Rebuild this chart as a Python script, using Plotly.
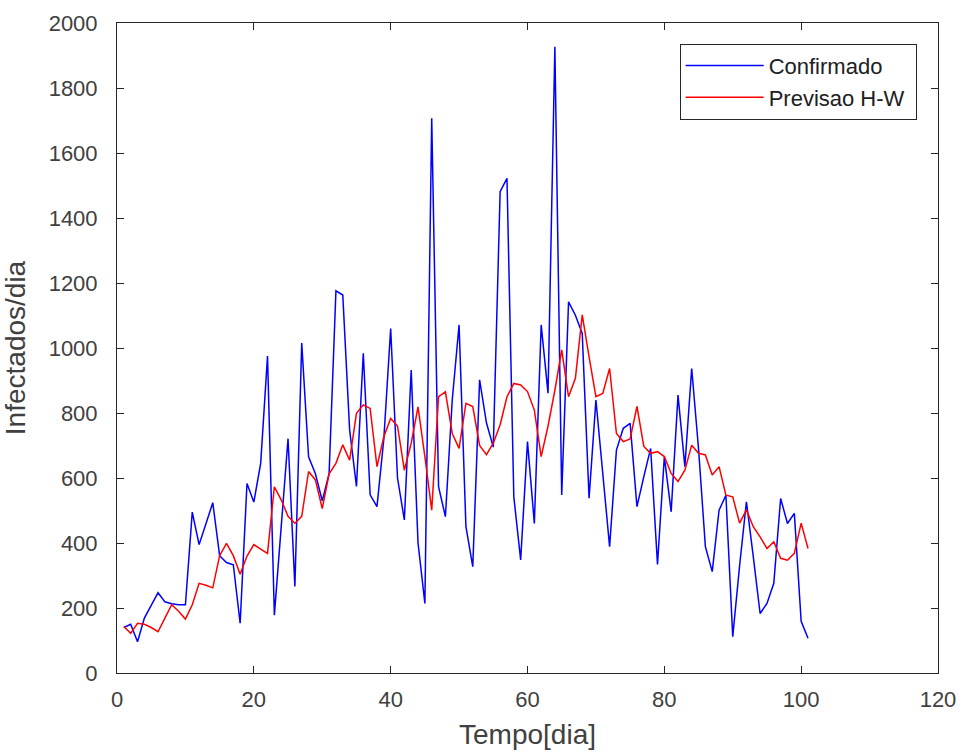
import plotly.graph_objects as go

dias = list(range(1, 102))

confirmado = [140, 150, 96, 169, 208, 247, 219, 213, 210, 210,
              495, 395, 459, 524, 361, 340, 333, 153, 583, 526,
              645, 975, 178, 440, 721, 266, 1015, 665, 613, 530,
              613, 1176, 1163, 748, 574, 984, 548, 512, 720, 1060,
              600, 471, 932, 400, 214, 1707, 573, 481, 840, 1071,
              450, 327, 902, 770, 695, 1481, 1522, 542, 348, 712,
              460, 1071, 861, 1927, 548, 1142, 1101, 1045, 538, 840,
              610, 389, 686, 753, 768, 512, 604, 691, 334, 665,
              496, 855, 635, 937, 690, 389, 312, 501, 547, 112,
              330, 527, 358, 183, 214, 276, 537, 460, 491, 159,
              107]

previsao_hw = [143, 122, 153, 150, 140, 127, 169, 210, 190, 166,
               210, 276, 270, 262, 361, 399, 361, 304, 360, 395,
               381, 368, 573, 533, 482, 461, 482, 620, 594, 506,
               613, 645, 702, 655, 799, 825, 814, 635, 727, 783,
               760, 624, 707, 819, 666, 501, 850, 865, 737, 691,
               830, 820, 700, 672, 707, 764, 850, 891, 886, 866,
               809, 666, 760, 870, 994, 850, 907, 1102, 973, 850,
               860, 937, 737, 712, 720, 820, 697, 676, 681, 666,
               614, 589, 624, 701, 676, 671, 609, 635, 547, 542,
               461, 502, 450, 419, 383, 404, 353, 347, 368, 461,
               383]

x_ticks = [0, 20, 40, 60, 80, 100, 120]
y_ticks = [0, 200, 400, 600, 800, 1000, 1200, 1400, 1600, 1800, 2000]

FONT = "Liberation Sans, Arial, sans-serif"
PAD = "\u00a0"

fig = go.Figure()
fig.add_trace(go.Scatter(x=dias, y=confirmado, mode="lines", name="Confirmado" + PAD,
                         legendgroup="a",
                         line=dict(color="#0000ff", width=1.5)))
fig.add_trace(go.Scatter(x=dias, y=previsao_hw, mode="lines", name="Previsao H-W" + PAD,
                         legendgroup="b",
                         line=dict(color="#ff0000", width=1.5)))

axis_common = dict(showline=True, linecolor="#262626", linewidth=1, mirror="ticks",
                   ticks="inside", ticklen=7, tickcolor="#262626", tickwidth=1,
                   showgrid=False, zeroline=False, automargin=False,
                   tickfont=dict(family=FONT, size=22, color="#404040"))

fig.update_xaxes(range=[0, 120], tickvals=x_ticks, ticktext=[str(v) for v in x_ticks],
                 title=dict(text="Tempo[dia]", font=dict(family=FONT, size=28, color="#404040"),
                            standoff=12),
                 ticklabelstandoff=7, **axis_common)
fig.update_yaxes(range=[0, 2000], tickvals=y_ticks, ticktext=[str(v) for v in y_ticks],
                 title=dict(text="Infectados/dia", font=dict(family=FONT, size=28, color="#404040"),
                            standoff=14),
                 ticklabelstandoff=14, **axis_common)

fig.update_layout(
    width=962, height=752,
    margin=dict(l=117, r=24, t=23, b=79),
    paper_bgcolor="white", plot_bgcolor="white",
    showlegend=True,
    legend=dict(x=0.974, y=0.968, xanchor="right", yanchor="top",
                bgcolor="white", bordercolor="#262626", borderwidth=1,
                font=dict(family=FONT, size=22, color="#202020"),
                tracegroupgap=0, itemwidth=78),
)

fig.write_html("out.html")
